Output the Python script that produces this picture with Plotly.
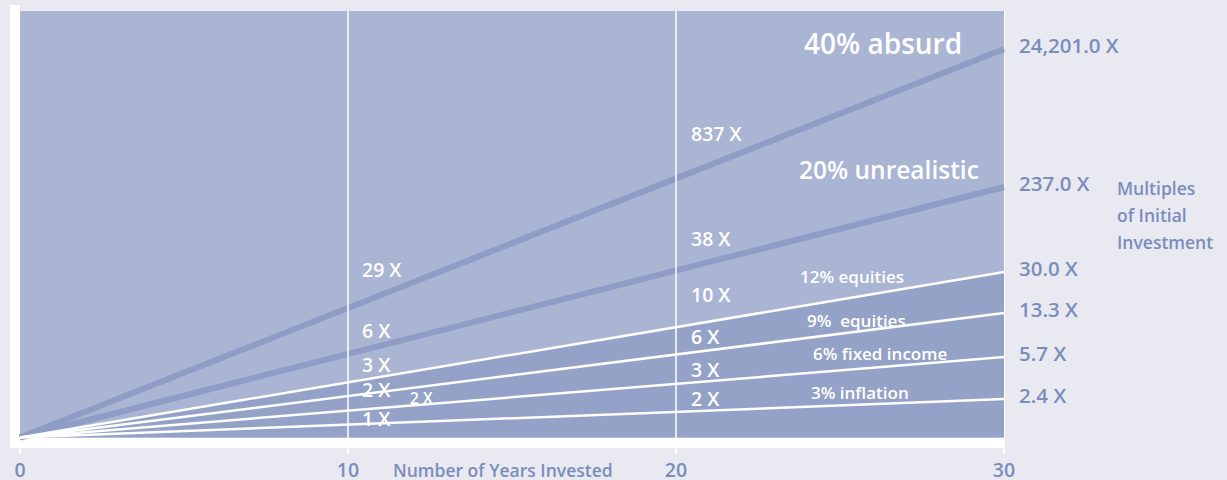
import plotly.graph_objects as go

# ---------------- data ----------------
series_names = ["40% absurd", "20% unrealistic", "12% equities", "9%  equities",
                "6% fixed income", "3% inflation"]
years = [0, 30]
# visual height of each growth line at year 30 (chart units)
end_height = [388.5, 250.5, 165.5, 124.5, 80.5, 38.5]
mult_10 = ["29 X", "6 X", "3 X", "2 X", "2 X", "1 X"]
mult_20 = ["837 X", "38 X", "10 X", "6 X", "3 X", "2 X"]
mult_30 = [24201.0, 237.0, 30.0, 13.3, 5.7, 2.4]
x_ticks = [0, 10, 20, 30]
x_ticktext = ["0", "10", "20", "30"]

# ---------------- styles ----------------
BG = "#e9e9f2"
UPPER = "#aab4d3"
LOWER = "#93a2c6"
THICK = "#8e9cc6"
BLUE = "#7b8dbb"
FONT = "Open Sans"

W, H = 1227, 480
L, R, T, B = 10, 222, 5, 32           # plot area px: x 10..1005, y 5..448
PX_PER_YEAR = 32.8
X0_PX = 20.0
Y0_PX = 437.5
xr = [(L - X0_PX) / PX_PER_YEAR, (W - R - X0_PX) / PX_PER_YEAR]
yr = [Y0_PX - (H - B), Y0_PX - T]
TOP = Y0_PX - 11                        # top of coloured panel


def xd(px):
    return (px - X0_PX) / PX_PER_YEAR


def yd(py):
    return Y0_PX - py


fig = go.Figure()

thick_idx = [0, 1]
thin_idx = [2, 3, 4, 5]
for i in thick_idx:
    fig.add_trace(go.Scatter(x=years, y=[0, end_height[i]], mode="lines",
                             line=dict(color=THICK, width=6), hoverinfo="skip",
                             showlegend=False))
for i in thin_idx:
    fig.add_trace(go.Scatter(x=years, y=[0, end_height[i]], mode="lines",
                             line=dict(color="white", width=2.5),
                             fill="tozeroy" if i == 2 else None,
                             fillcolor=LOWER, hoverinfo="skip", showlegend=False))

shapes = [
    dict(type="rect", xref="x", yref="y", x0=0, x1=years[-1], y0=0, y1=TOP,
         fillcolor=UPPER, line=dict(width=0), layer="below"),
    dict(type="rect", xref="x", yref="y", x0=0, x1=xr[1], y0=TOP, y1=yr[1],
         fillcolor=BG, line=dict(width=0), layer="below"),
]
for t in x_ticks[1:3]:
    shapes.append(dict(type="line", xref="x", yref="y", x0=t, x1=t, y0=yr[0], y1=TOP,
                       line=dict(color="white", width=1.5), layer="above"))

ann = []
# series names
name_pos = [(883, 43, 28), (889, 169, 24.5), (852, 276, 17), (856, 320, 17),
            (880, 353, 17), (860, 392, 17)]
for name, (px, py, fs) in zip(series_names, name_pos):
    ann.append(dict(x=xd(px), y=yd(py), xref="x", yref="y", text=name, showarrow=False,
                    font=dict(family=FONT, size=fs, color="white", weight=600),
                    xanchor="center", yanchor="middle"))
# 10-year labels
pos10 = [(360, 269), (360, 330), (360, 364), (360, 389), (408, 398), (360, 418)]
for i, (txt, (px, py)) in enumerate(zip(mult_10, pos10)):
    ann.append(dict(x=xd(px), y=yd(py), xref="x", yref="y", text=txt, showarrow=False,
                    font=dict(family=FONT, size=15.5 if i == 4 else 19.5, color="white",
                              weight=600),
                    xanchor="left", yanchor="middle"))
# 20-year labels
pos20 = [133, 238, 294, 336, 369, 398]
for txt, py in zip(mult_20, pos20):
    ann.append(dict(x=xd(689), y=yd(py), xref="x", yref="y", text=txt, showarrow=False,
                    font=dict(family=FONT, size=19.5, color="white", weight=600),
                    xanchor="left", yanchor="middle"))
# 30-year multiples at line ends
for m, h in zip(mult_30, end_height):
    ann.append(dict(x=years[-1], y=h, xref="x", yref="y", text=f"{m:,.1f} X",
                    showarrow=False, xanchor="left", yanchor="middle", xshift=13, yshift=4,
                    font=dict(family=FONT, size=20.5, color=BLUE, weight=600)))
# axis titles
for txt, py in zip(["Multiples", "of Initial", "Investment"], [188, 215, 242]):
    ann.append(dict(x=(1115 - L) / (W - L - R), y=(H - B - py) / (H - T - B),
                    xref="paper", yref="paper", text=txt, showarrow=False,
                    xanchor="left", yanchor="middle",
                    font=dict(family=FONT, size=17.5, color=BLUE, weight=600)))
ann.append(dict(x=(503 - L) / (W - L - R), y=(H - B - 470) / (H - T - B),
                xref="paper", yref="paper", text="Number of Years Invested",
                showarrow=False, xanchor="center", yanchor="middle",
                font=dict(family=FONT, size=17.5, color=BLUE, weight=600)))

fig.update_layout(
    width=W, height=H, margin=dict(l=L, r=R, t=T, b=B, autoexpand=False),
    paper_bgcolor=BG, plot_bgcolor="white",
    shapes=shapes, annotations=ann,
    xaxis=dict(range=xr, showgrid=False, zeroline=False, showline=False,
               automargin=False,
               tickvals=x_ticks, ticktext=x_ticktext, ticks="outside",
               ticklen=5, tickwidth=1.5, tickcolor="white", ticklabelstandoff=0,
               tickfont=dict(family=FONT, size=19.5, color=BLUE, weight=600)),
    yaxis=dict(range=yr, visible=False, showgrid=False, zeroline=False,
               automargin=False),
)

fig.write_html("out.html", config={"displayModeBar": False},
               post_script="document.body.style.margin='0';"
                           "document.body.style.background='" + BG + "';")
